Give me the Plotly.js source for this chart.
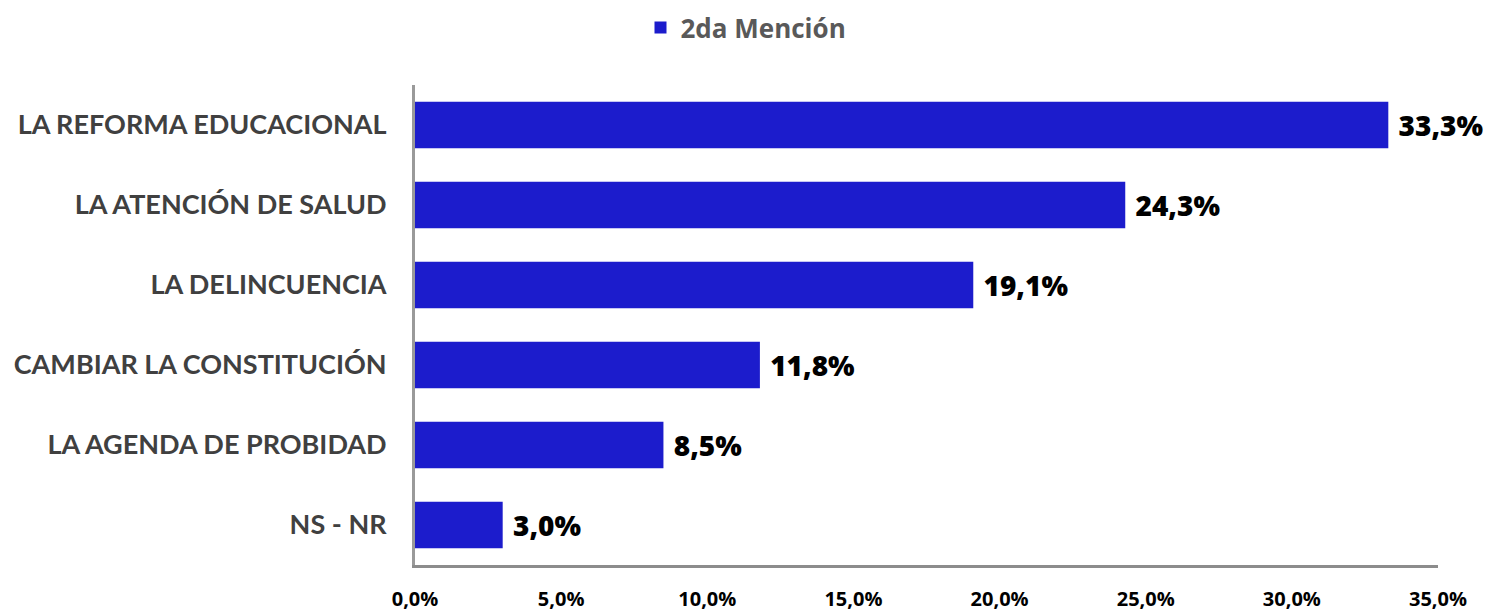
<!DOCTYPE html>
<html>
<head>
<meta charset="utf-8">
<script src="https://cdn.plot.ly/plotly-3.0.1.min.js"></script>
<style>html,body{margin:0;padding:0;background:#fff;}#chart{width:1492px;height:614px;}</style>
</head>
<body>
<div id="chart"></div>
<script>
const categories = ["LA REFORMA EDUCACIONAL", "LA ATENCIÓN DE SALUD", "LA DELINCUENCIA", "CAMBIAR LA CONSTITUCIÓN", "LA AGENDA DE PROBIDAD", "NS - NR"];
const values = [33.3, 24.3, 19.1, 11.8, 8.5, 3.0];
const seriesName = "2da Mención";
const tickVals = [0, 5, 10, 15, 20, 25, 30, 35];
const tickText = ["0,0%", "5,0%", "10,0%", "15,0%", "20,0%", "25,0%", "30,0%", "35,0%"];

const labels = values.map(v => '\u00a0' + v.toFixed(1).replace('.', ',') + '%');

const trace = {
  type: 'bar',
  orientation: 'h',
  name: seriesName,
  x: values,
  y: categories,
  text: labels,
  textposition: 'outside',
  cliponaxis: false,
  textfont: {family: 'Open Sans, Lato, sans-serif', size: 28, color: '#000', weight: 800},
  marker: {color: '#1c1ccc'},
  showlegend: true,
  hoverinfo: 'none'
};

const layout = {
  width: 1492, height: 614,
  margin: {l: 415, r: 54, t: 85, b: 49},
  paper_bgcolor: '#fff', plot_bgcolor: '#fff',
  bargap: 0.42,
  showlegend: true,
  legend: {
    orientation: 'h', xref: 'container', yref: 'container',
    x: 0.5, xanchor: 'center', y: 0.955, yanchor: 'middle',
    font: {family: 'Open Sans, Lato, sans-serif', size: 26, color: '#595959', weight: 700},
    itemwidth: 30
  },
  xaxis: {
    range: [0, 35],
    tickvals: tickVals, ticktext: tickText,
    showgrid: false, zeroline: false,
    showline: true, linecolor: '#8c8c8c', linewidth: 3,
    ticks: '', ticklabelstandoff: 14,
    tickfont: {family: 'Open Sans, Lato, sans-serif', size: 20, color: '#000', weight: 700},
    fixedrange: true
  },
  yaxis: {
    autorange: 'reversed',
    showgrid: false, zeroline: false,
    showline: true, linecolor: '#9a9a9a', linewidth: 3,
    ticks: '', ticklabelstandoff: 20,
    tickfont: {family: 'Lato, Open Sans, sans-serif', size: 27, color: '#404040', weight: 700},
    fixedrange: true
  }
};

Plotly.newPlot('chart', [trace], layout, {displayModeBar: false, staticPlot: true});
</script>
</body>
</html>
